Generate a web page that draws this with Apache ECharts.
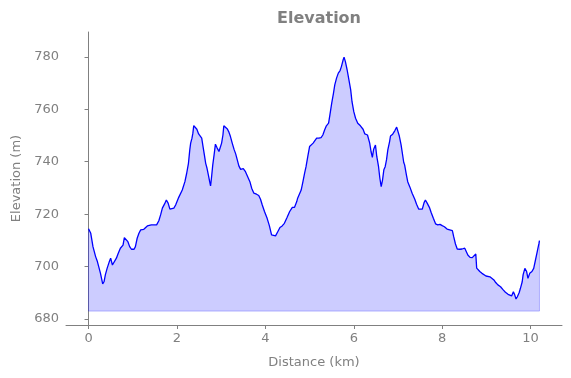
<!DOCTYPE html>
<html>
<head>
<meta charset="utf-8">
<script src="https://cdn.jsdelivr.net/npm/echarts@6/dist/echarts.min.js"></script>
<style>
  html, body { margin: 0; padding: 0; background: #fff; }
  #chart { width: 571px; height: 378px; }
</style>
</head>
<body>
<div id="chart"></div>
<script>
// distance along the route (km)
var distance = [
  0.00, 0.05, 0.10, 0.16, 0.20, 0.23, 0.27, 0.32, 0.35, 0.38, 0.42, 0.47, 0.50, 0.54, 0.57, 0.63, 0.67, 0.72, 0.75, 0.78,
  0.81, 0.85, 0.89, 0.93, 0.97, 1.03, 1.06, 1.10, 1.14, 1.18, 1.25, 1.29, 1.33, 1.36, 1.42, 1.48, 1.54, 1.59, 1.63, 1.67,
  1.72, 1.76, 1.80, 1.84, 1.88, 1.93, 1.97, 2.04, 2.12, 2.18, 2.22, 2.26, 2.29, 2.31, 2.34, 2.36, 2.38, 2.41, 2.45, 2.49,
  2.53, 2.56, 2.59, 2.62, 2.65, 2.68, 2.71, 2.74, 2.76, 2.78, 2.81, 2.84, 2.87, 2.91, 2.95, 2.98, 3.01, 3.04, 3.06, 3.10,
  3.14, 3.17, 3.21, 3.25, 3.29, 3.33, 3.36, 3.40, 3.44, 3.50, 3.55, 3.60, 3.65, 3.69, 3.74, 3.80, 3.85, 3.89, 3.93, 3.98,
  4.04, 4.09, 4.14, 4.18, 4.23, 4.25, 4.28, 4.33, 4.38, 4.43, 4.49, 4.55, 4.61, 4.66, 4.71, 4.73, 4.77, 4.81, 4.85, 4.89,
  4.92, 4.96, 5.00, 5.04, 5.08, 5.12, 5.16, 5.21, 5.26, 5.30, 5.34, 5.38, 5.43, 5.46, 5.50, 5.54, 5.57, 5.61, 5.65, 5.69,
  5.72, 5.76, 5.78, 5.81, 5.85, 5.89, 5.93, 5.96, 6.00, 6.04, 6.09, 6.15, 6.21, 6.25, 6.31, 6.33, 6.36, 6.39, 6.42, 6.45,
  6.49, 6.52, 6.56, 6.59, 6.62, 6.65, 6.68, 6.71, 6.74, 6.77, 6.81, 6.83, 6.88, 6.93, 6.97, 7.00, 7.03, 7.07, 7.11, 7.13,
  7.15, 7.19, 7.22, 7.27, 7.32, 7.38, 7.42, 7.47, 7.51, 7.55, 7.59, 7.62, 7.66, 7.71, 7.75, 7.80, 7.85, 7.90, 7.95, 8.00,
  8.05, 8.11, 8.17, 8.23, 8.26, 8.30, 8.34, 8.40, 8.45, 8.51, 8.54, 8.58, 8.63, 8.68, 8.72, 8.76, 8.78, 8.81, 8.85, 8.90,
  8.94, 8.99, 9.03, 9.08, 9.12, 9.17, 9.21, 9.26, 9.32, 9.38, 9.43, 9.49, 9.53, 9.57, 9.61, 9.64, 9.67, 9.70, 9.74, 9.77,
  9.81, 9.83, 9.87, 9.91, 9.94, 9.98, 10.03, 10.07, 10.11, 10.15, 10.19, 10.20
];
// elevation (m)
var elevation = [
  714.4, 712.7, 707.6, 703.8, 701.9, 700.0, 697.4, 693.4, 694.2, 696.8, 699.3, 701.9, 703.2, 700.6, 701.3, 703.2, 705.0, 707.0, 706.3, 708.2,
  711.0, 710.8, 709.5, 707.6, 706.6, 706.6, 707.6, 710.8, 712.7, 714.0, 714.2, 714.4, 715.5, 715.3, 715.9, 715.9, 715.9, 717.5, 719.7, 722.3,
  723.9, 725.4, 724.2, 721.9, 721.3, 722.3, 723.5, 726.4, 729.2, 732.4, 735.6, 739.4, 744.5, 747.1, 749.0, 750.9, 753.8, 753.7, 752.4, 750.6,
  750.2, 749.0, 745.8, 742.6, 739.4, 737.5, 735.0, 732.4, 730.8, 733.7, 738.8, 742.6, 746.7, 745.2, 743.9, 743.2, 747.1, 750.2, 753.7, 753.4,
  752.5, 751.5, 749.6, 747.1, 744.8, 742.9, 741.0, 738.4, 737.1, 737.4, 736.2, 734.3, 732.4, 729.9, 728.0, 727.6, 727.1, 725.7, 723.5, 721.0,
  718.4, 715.6, 712.1, 711.7, 711.7, 711.4, 713.3, 714.9, 715.5, 716.5, 718.7, 721.0, 722.6, 722.6, 724.8, 726.1, 725.4, 729.2, 732.4, 735.8,
  738.1, 742.0, 745.8, 746.4, 747.1, 747.4, 749.0, 749.0, 749.2, 750.2, 752.1, 753.7, 754.7, 757.9, 762.3, 766.1, 769.3, 771.9, 773.8, 774.8,
  776.3, 778.9, 779.9, 778.2, 775.0, 771.2, 767.4, 762.9, 759.1, 756.6, 754.7, 753.7, 752.4, 750.6, 750.2, 750.2, 747.1, 743.9, 741.7, 744.8,
  746.4, 742.0, 738.1, 733.7, 730.5, 733.0, 736.9, 738.1, 740.7, 744.5, 747.7, 749.8, 750.5, 751.9, 753.2, 753.8, 749.8, 746.4, 742.0, 739.7,
  738.8, 735.0, 732.4, 730.3, 728.0, 725.7, 723.8, 721.9, 721.3, 721.9, 724.4, 725.4, 724.2, 722.6, 720.6, 718.4, 716.3, 715.9, 716.1, 715.6,
  715.2, 714.3, 714.0, 713.7, 711.4, 708.6, 706.7, 706.6, 706.7, 707.0, 706.6, 704.4, 703.5, 703.4, 703.8, 704.8, 699.4, 698.7, 698.1, 697.4,
  696.8, 696.4, 696.8, 696.1, 695.5, 694.9, 693.9, 693.0, 692.3, 691.1, 690.2, 689.4, 689.1, 688.8, 690.4, 689.2, 687.6, 688.5, 690.0, 691.7,
  694.2, 696.8, 699.3, 698.1, 695.5, 697.4, 698.1, 699.3, 702.5, 705.7, 708.9, 709.9
];
var fillBase = 683;
var xTicks = [0, 2, 4, 6, 8, 10];
var yTicks = [680, 700, 720, 740, 760, 780];

var profile = distance.map(function (d, i) { return [d, elevation[i]]; });
var last = distance.length - 1;
var outline = [
  [distance[0], elevation[0]],
  [distance[0], fillBase],
  [distance[last], fillBase],
  [distance[last], elevation[last]]
];

var grey = '#808080';
var font = 'DejaVu Sans';
var chart = echarts.init(document.getElementById('chart'));
chart.setOption({
  animation: false,
  title: {
    text: 'Elevation',
    left: 314,
    top: 6,
    textAlign: 'center',
    textStyle: { color: grey, fontSize: 16, fontWeight: 'bold', fontFamily: font }
  },
  grid: { left: 66, right: 9, top: 32, bottom: 53 },
  xAxis: {
    type: 'value',
    min: -0.51,
    max: 10.71,
    name: 'Distance (km)',
    nameLocation: 'middle',
    nameGap: 31,
    nameTextStyle: { color: grey, fontSize: 13, fontFamily: font },
    axisLine: { lineStyle: { color: grey, width: 1 } },
    axisTick: { length: 4, lineStyle: { color: grey }, customValues: xTicks },
    axisLabel: { color: grey, fontSize: 13, fontFamily: font, margin: 7, customValues: xTicks },
    splitLine: { show: false }
  },
  yAxis: {
    type: 'value',
    min: 677.7,
    max: 789.5,
    name: 'Elevation (m)',
    nameLocation: 'middle',
    nameGap: 42,
    nameTextStyle: { color: grey, fontSize: 13, fontFamily: font },
    axisLine: { show: true, lineStyle: { color: grey, width: 1 } },
    axisTick: { show: true, length: 4, lineStyle: { color: grey }, customValues: yTicks },
    axisLabel: { color: grey, fontSize: 13, fontFamily: font, margin: 7, customValues: yTicks },
    splitLine: { show: false }
  },
  series: [
    {
      type: 'line',
      data: outline,
      symbol: 'none',
      lineStyle: { color: 'rgba(0,0,255,0.25)', width: 1 },
      silent: true,
      z: 1
    },
    {
      type: 'line',
      data: profile,
      symbol: 'none',
      lineStyle: { color: '#0000ff', width: 1.3 },
      areaStyle: { color: 'rgba(0,0,255,0.2)', origin: fillBase, opacity: 1 },
      z: 2
    }
  ]
});
</script>
</body>
</html>
